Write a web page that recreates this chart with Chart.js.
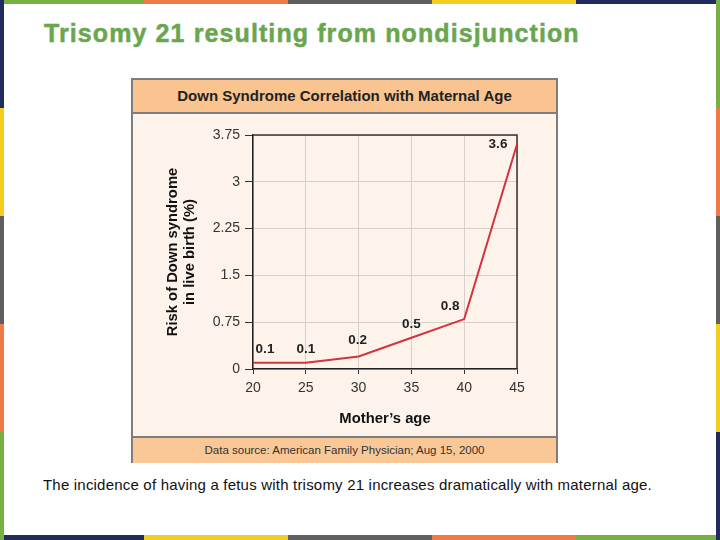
<!DOCTYPE html>
<html>
<head>
<meta charset="utf-8">
<script src="https://cdn.jsdelivr.net/npm/chart.js@4/dist/chart.umd.min.js"></script>
<style>
  html, body { margin: 0; padding: 0; }
  body { width: 720px; height: 540px; position: relative; background: #ffffff; overflow: hidden; font-family: "Liberation Sans", Arial, sans-serif; }
  .seg { position: absolute; }
  #title { position: absolute; left: 44px; top: 19px; font-size: 25px; font-weight: bold; color: #6aa64f; white-space: nowrap; letter-spacing: 1.1px; -webkit-text-stroke: 0.5px #6aa64f; }
  #caption { position: absolute; left: 43px; top: 476px; font-size: 15px; color: #111; white-space: nowrap; letter-spacing: 0.2px; }
  #box { position: absolute; left: 131px; top: 78px; width: 427px; height: 385px; box-sizing: border-box; border: 2px solid #7d7d7d; background: #fdf3ea; }
  #hdr { position: absolute; left: 0; top: 0; width: 423px; height: 32px; background: #f9c48f; border-bottom: 2px solid #7d7d7d; text-align: center; line-height: 32px; font-size: 15px; font-weight: bold; color: #222; }
  #ftr { position: absolute; left: 0; top: 356px; width: 423px; height: 25px; background: #f9c896; border-top: 2px solid #7d7d7d; text-align: center; line-height: 24px; font-size: 11.5px; color: #333; }
  #cv { position: absolute; left: 133px; top: 112px; }
</style>
</head>
<body>
<div id="borders"></div>
<div id="title">Trisomy 21 resulting from nondisjunction</div>
<div id="box">
  <div id="hdr">Down Syndrome Correlation with Maternal Age</div>
  <div id="ftr">Data source: American Family Physician; Aug 15, 2000</div>
</div>
<canvas id="cv" width="423" height="323"></canvas>
<div id="caption">The incidence of having a fetus with trisomy 21 increases dramatically with maternal age.</div>
<script>
// ---- data ----
const ages = [20, 25, 30, 35, 40, 45];
const riskPercent = [0.1, 0.1, 0.2, 0.5, 0.8, 3.6];
const yTicks = [0, 0.75, 1.5, 2.25, 3, 3.75];
const xTicks = [20, 25, 30, 35, 40, 45];
const chartTitle = 'Down Syndrome Correlation with Maternal Age';
const yTitle = ['Risk of Down syndrome', 'in live birth (%)'];
const xTitle = 'Mother\u2019s age';

// ---- slide border decoration ----
const C = { g: '#77b043', o: '#ee7a48', k: '#5f5f61', y: '#f4cd1f', n: '#1f2d5e' };
const bd = document.getElementById('borders');
function seg(x, y, w, h, c) { const d = document.createElement('div'); d.className = 'seg'; d.style.cssText = `left:${x}px;top:${y}px;width:${w}px;height:${h}px;background:${c}`; bd.appendChild(d); }
['g','o','k','y','n'].forEach((c, i) => seg(i * 144, 0, 144, 4, C[c]));
['n','y','k','o','g'].forEach((c, i) => seg(i * 144, 535, 144, 5, C[c]));
['n','y','k','o','g'].forEach((c, i) => seg(0, i * 108, 4, 108, C[c]));
['g','o','k','y','n'].forEach((c, i) => seg(716, i * 108, 4, 108, C[c]));

// ---- data label plugin ----
const labelPlugin = {
  id: 'pointLabels',
  afterDatasetsDraw(chart, args, opts) {
    const ctx = chart.ctx;
    const meta = chart.getDatasetMeta(0);
    ctx.save();
    ctx.font = 'bold 13.5px "Liberation Sans", Arial, sans-serif';
    ctx.fillStyle = '#222';
    ctx.textAlign = 'center';
    ctx.textBaseline = 'middle';
    meta.data.forEach((pt, i) => {
      const off = opts.offsets[i] || [0, -14];
      ctx.fillText(String(chart.data.datasets[0].data[i].y), pt.x + off[0], pt.y + off[1]);
    });
    ctx.restore();
  }
};

// ---- frame plugin (top/right dark lines) ----
const framePlugin = {
  id: 'frame',
  beforeDatasetsDraw(chart) {
    const { ctx, chartArea: a } = chart;
    ctx.save();
    ctx.strokeStyle = '#333';
    ctx.lineWidth = 1.5;
    ctx.beginPath();
    ctx.moveTo(a.left, a.top); ctx.lineTo(a.right, a.top); ctx.lineTo(a.right, a.bottom);
    ctx.stroke();
    ctx.restore();
  }
};

const fontFam = '"Liberation Sans", Arial, sans-serif';
new Chart(document.getElementById('cv'), {
  type: 'line',
  data: {
    datasets: [{
      data: ages.map((a, i) => ({ x: a, y: riskPercent[i] })),
      borderColor: '#d6313c',
      borderWidth: 2,
      pointRadius: 0,
      tension: 0,
      fill: false
    }]
  },
  options: {
    responsive: false,
    animation: false,
    events: [],
    layout: { padding: { top: 23, right: 39, left: 0, bottom: 0 } },
    plugins: {
      legend: { display: false },
      tooltip: { enabled: false },
      title: { display: false, text: chartTitle },
      pointLabels: { offsets: [[12, -13], [0, -13], [-1, -16], [0, -14], [-14, -13], [-19, 0]] }
    },
    scales: {
      x: {
        type: 'linear',
        min: 20, max: 45,
        afterBuildTicks: s => { s.ticks = xTicks.map(v => ({ value: v })); },
        afterFit: s => { s.height = 66; },
        grid: { color: '#d4d0cc', lineWidth: 1, tickLength: 5, tickColor: '#333', drawTicks: true },
        border: { color: '#222', width: 1.5 },
        ticks: { color: '#333', font: { size: 14, family: fontFam }, padding: 6, maxRotation: 0 },
        title: { display: true, text: xTitle, color: '#111', font: { size: 14.8, weight: 'bold', family: fontFam, lineHeight: 16 / 14.8 }, padding: { top: 0, bottom: 8 } }
      },
      y: {
        min: 0, max: 3.75,
        afterBuildTicks: s => { s.ticks = yTicks.map(v => ({ value: v })); },
        afterFit: s => { s.width = 120; },
        grid: { color: '#d4d0cc', lineWidth: 1, tickLength: 8, tickColor: '#333' },
        border: { color: '#222', width: 1.5 },
        ticks: { color: '#333', font: { size: 14, family: fontFam }, padding: 5, callback: v => String(v) },
        title: { display: true, text: yTitle, color: '#111', font: { size: 14.8, weight: 'bold', family: fontFam, lineHeight: 17 / 14.8 }, padding: { top: 31, bottom: 0 } }
      }
    }
  },
  plugins: [framePlugin, labelPlugin]
});
</script>
</body>
</html>
